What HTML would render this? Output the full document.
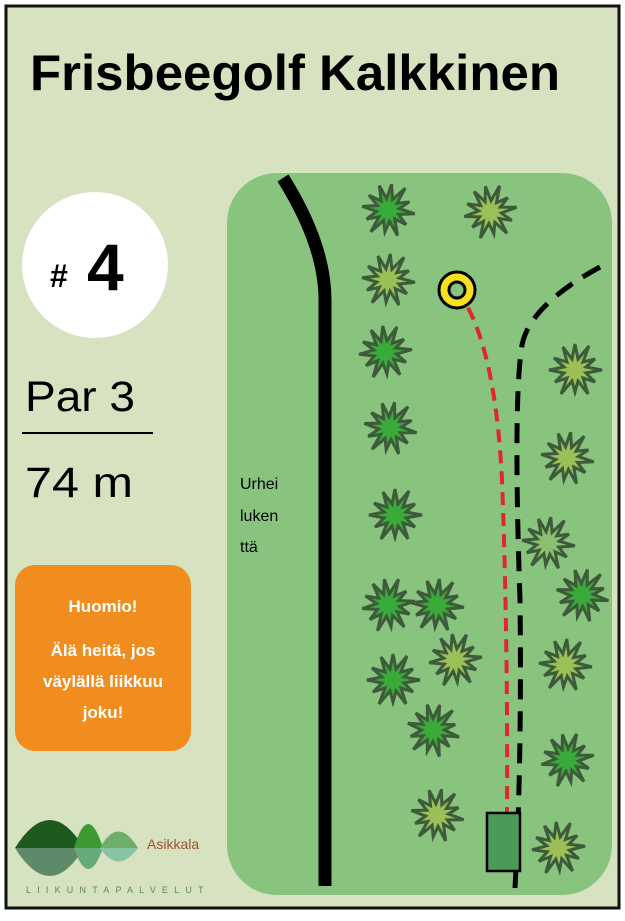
<!DOCTYPE html>
<html><head><meta charset="utf-8"><style>
body{margin:0;width:625px;height:916px;background:#fff;overflow:hidden;font-family:"Liberation Sans",sans-serif}
</style></head><body>
<svg width="625" height="916" xmlns="http://www.w3.org/2000/svg">
<defs>
<polygon id="s" points="27,0 11,3 20,12 8,8 13,24 3,11 0,22 -3,11 -14,24 -8,8 -20,12 -11,3 -26,0 -11,-3 -21,-12 -8,-8 -12,-23 -3,-11 0,-26 3,-11 14,-24 8,-8 20,-11 11,-3" stroke="#3d5a3a" stroke-width="3" stroke-linejoin="miter"/>
</defs>
<rect x="6" y="6" width="613" height="902" fill="#d7e3c0" stroke="#111" stroke-width="3"/>
<rect x="227" y="173" width="385" height="722" rx="50" fill="#88c47e"/>
<text x="30" y="90" font-size="50" font-weight="bold" fill="#000" textLength="530" lengthAdjust="spacingAndGlyphs">Frisbeegolf Kalkkinen</text>
<circle cx="95" cy="265" r="73" fill="#fff"/>
<text x="50" y="287" font-size="32" font-weight="bold">#</text>
<text x="87" y="290" font-size="66" font-weight="bold">4</text>
<text x="25" y="411" font-size="43" textLength="110" lengthAdjust="spacingAndGlyphs">Par 3</text>
<line x1="22" y1="433" x2="153" y2="433" stroke="#000" stroke-width="2"/>
<text x="25" y="497" font-size="43" textLength="108" lengthAdjust="spacingAndGlyphs">74 m</text>
<rect x="15" y="565" width="176" height="186" rx="20" fill="#f08d1e"/>
<g font-size="17" font-weight="bold" fill="#fff" text-anchor="middle">
<text x="103" y="612">Huomio!</text>
<text x="103" y="656">Älä heitä, jos</text>
<text x="103" y="687">väylällä liikkuu</text>
<text x="103" y="718">joku!</text>
</g>
<path d="M15,848 Q50,792 84,848 Z" fill="#1e5a1e"/>
<path d="M15,848 Q50,904 84,848 Z" fill="#5f8a6a"/>
<path d="M74,848 Q88,800 103,848 Z" fill="#3b9a32"/>
<path d="M74,848 Q88,890 103,848 Z" fill="#66aa7a"/>
<path d="M100,848 Q118,815 138,848 Z" fill="#6fae66"/>
<path d="M100,848 Q118,875 138,848 Z" fill="#86c4a4"/>
<text x="147" y="849" font-size="14" fill="#a0522d">Asikkala</text>
<text x="26" y="893" font-size="9" fill="#5a8a5a" letter-spacing="6.2">LIIKUNTAPALVELUT</text>
<path d="M283,178 Q325,245 325,300 L325,886" fill="none" stroke="#000" stroke-width="13"/>
<text font-size="16" fill="#000"><tspan x="240" y="489">Urhei</tspan><tspan x="240" y="521">luken</tspan><tspan x="240" y="552">ttä</tspan></text>
<g fill="#3aab3a">
<use href="#s" transform="translate(388,210) rotate(8)"/>
<use href="#s" transform="translate(385,352) rotate(-5)"/>
<use href="#s" transform="translate(390,428) rotate(10)"/>
<use href="#s" transform="translate(395,515)"/>
<use href="#s" transform="translate(582,595) rotate(12)"/>
<use href="#s" transform="translate(388,605) rotate(-8)"/>
<use href="#s" transform="translate(437,605) rotate(5)"/>
<use href="#s" transform="translate(393,680)"/>
<use href="#s" transform="translate(433,730) rotate(15)"/>
<use href="#s" transform="translate(567,760) rotate(-10)"/>
</g>
<g fill="#9cc058">
<use href="#s" transform="translate(490,212) rotate(-10)"/>
<use href="#s" transform="translate(388,280) rotate(5)"/>
<use href="#s" transform="translate(575,370)"/>
<use href="#s" transform="translate(567,458) rotate(8)"/>
<use href="#s" transform="translate(455,660) rotate(-6)"/>
<use href="#s" transform="translate(565,665) rotate(4)"/>
<use href="#s" transform="translate(437,815) rotate(10)"/>
<use href="#s" transform="translate(558,848) rotate(-4)"/>
</g>
<use href="#s" transform="translate(548,543) rotate(6)" fill="#8cc070"/>
<path d="M600,267 Q530,305 522,345 Q513,400 520,600 Q522,760 515,888" fill="none" stroke="#000" stroke-width="5" stroke-dasharray="20,12"/>
<path d="M457,290 Q495,340 502,480 Q508,640 507,815" fill="none" stroke="#e02828" stroke-width="4" stroke-dasharray="13,8"/>
<rect x="487" y="813" width="33" height="58" fill="#4a9a5a" stroke="#000" stroke-width="2.5"/>
<circle cx="457" cy="290" r="18" fill="#f8e020" stroke="#000" stroke-width="3"/>
<circle cx="457" cy="290" r="8" fill="#88c47e" stroke="#000" stroke-width="3"/>
</svg>
</body></html>
